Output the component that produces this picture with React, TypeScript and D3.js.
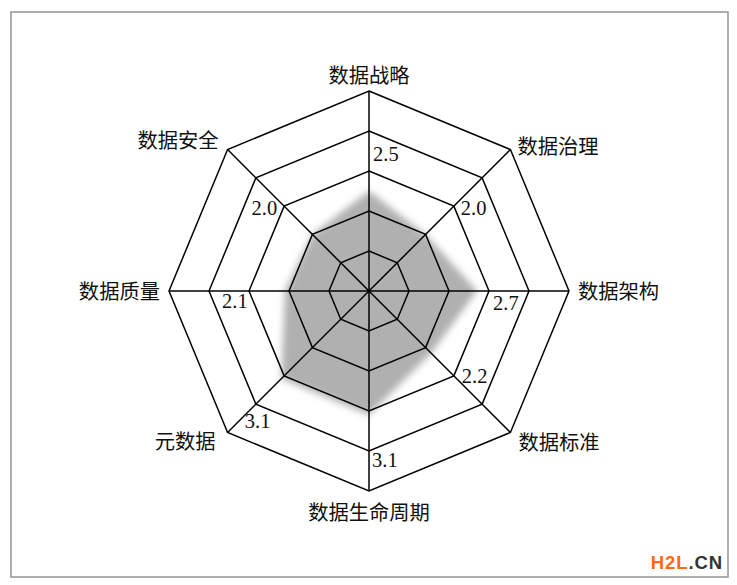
import { useEffect, useRef } from "react";
import * as d3 from "d3";

// axes clockwise from the top
const categories = ["数据战略", "数据治理", "数据架构", "数据标准", "数据生命周期", "元数据", "数据质量", "数据安全"];
const scores = [2.5, 2.0, 2.7, 2.2, 3.1, 3.1, 2.1, 2.0];
const ringLevels = [1, 2, 3, 4, 5];
const maxLevel = 5;

// ring on which each score label sits (layout only)
const labelRing = [4, 3, 3, 3, 4, 4, 4, 3];

export default function App() {
  const ref = useRef<SVGSVGElement>(null);

  useEffect(() => {
    const svg = d3.select(ref.current);
    if (!svg.node()) return;
    svg.selectAll("*").remove();

    const width = 737;
    const height = 585;
    const cx = 369;
    const cy = 291;
    const n = categories.length;

    const r = d3.scaleLinear().domain([0, maxLevel]).range([0, 200]);
    const angle = (i: number) => (i * 2 * Math.PI) / n;
    const pt = (i: number, v: number): [number, number] => [
      cx + r(v) * Math.sin(angle(i)),
      cy - r(v) * Math.cos(angle(i)),
    ];

    svg.attr("viewBox", `0 0 ${width} ${height}`).attr("width", width).attr("height", height);

    svg
      .append("rect")
      .attr("width", width)
      .attr("height", height)
      .attr("fill", "#fff");

    // outer frame
    svg
      .append("rect")
      .attr("x", 11)
      .attr("y", 12)
      .attr("width", 717)
      .attr("height", 565)
      .attr("fill", "none")
      .attr("stroke", "#9a9a9a")
      .attr("stroke-width", 1.6);

    const defs = svg.append("defs");
    defs
      .append("filter")
      .attr("id", "soft")
      .attr("x", "-20%")
      .attr("y", "-20%")
      .attr("width", "140%")
      .attr("height", "140%")
      .append("feGaussianBlur")
      .attr("stdDeviation", 3.5);

    const line = d3.line<[number, number]>().curve(d3.curveLinearClosed);

    // score area
    svg
      .append("path")
      .attr("d", line(scores.map((v, i) => pt(i, v))))
      .attr("fill", "#b0b0b0")
      .attr("filter", "url(#soft)");

    // grid rings
    svg
      .selectAll("path.ring")
      .data(ringLevels)
      .join("path")
      .attr("class", "ring")
      .attr("d", (lv) => line(categories.map((_, i) => pt(i, lv))))
      .attr("fill", "none")
      .attr("stroke", "#000")
      .attr("stroke-width", 1.5)
      .attr("stroke-linejoin", "miter");

    // spokes
    svg
      .selectAll("line.spoke")
      .data(categories)
      .join("line")
      .attr("class", "spoke")
      .attr("x1", cx)
      .attr("y1", cy)
      .attr("x2", (_, i) => pt(i, maxLevel)[0])
      .attr("y2", (_, i) => pt(i, maxLevel)[1])
      .attr("stroke", "#000")
      .attr("stroke-width", 1.5);

    // category labels
    const catPos = [
      { dx: 0, dy: -8, anchor: "middle" },
      { dx: 7, dy: 4, anchor: "start" },
      { dx: 9, dy: 8, anchor: "start" },
      { dx: 8, dy: 18, anchor: "start" },
      { dx: 0, dy: 29, anchor: "middle" },
      { dx: -12, dy: 17, anchor: "end" },
      { dx: -9, dy: 8, anchor: "end" },
      { dx: -9, dy: -2, anchor: "end" },
    ];
    svg
      .selectAll("text.cat")
      .data(categories)
      .join("text")
      .attr("class", "cat")
      .attr("x", (_, i) => pt(i, maxLevel)[0] + catPos[i].dx)
      .attr("y", (_, i) => pt(i, maxLevel)[1] + catPos[i].dy)
      .attr("text-anchor", (_, i) => catPos[i].anchor)
      .attr("font-family", "'Noto Sans CJK SC', sans-serif")
      .attr("font-size", 20.3)
      .attr("fill", "#111")
      .text((d) => d);

    // score labels
    const valPos = [
      { dx: 4, dy: 30, anchor: "start" },
      { dx: 7, dy: 9, anchor: "start" },
      { dx: 4, dy: 19, anchor: "start" },
      { dx: 8, dy: 7, anchor: "start" },
      { dx: 3, dy: 16, anchor: "start" },
      { dx: -11, dy: 24, anchor: "start" },
      { dx: 13, dy: 17, anchor: "start" },
      { dx: -7, dy: 9, anchor: "end" },
    ];
    const fmt = d3.format(".1f");
    svg
      .selectAll("text.val")
      .data(scores)
      .join("text")
      .attr("class", "val")
      .attr("x", (_, i) => pt(i, labelRing[i])[0] + valPos[i].dx)
      .attr("y", (_, i) => pt(i, labelRing[i])[1] + valPos[i].dy)
      .attr("text-anchor", (_, i) => valPos[i].anchor)
      .attr("font-family", "'Liberation Serif', 'Times New Roman', serif")
      .attr("font-size", 20.5)
      .attr("fill", "#111")
      .text((d) => fmt(d));

    // watermark
    const wm = svg
      .append("text")
      .attr("x", 723)
      .attr("y", 569)
      .attr("text-anchor", "end")
      .attr("font-family", "'Liberation Sans', Arial, sans-serif")
      .attr("font-weight", 700)
      .attr("font-size", 18.5)
      .attr("letter-spacing", 0.9);
    wm.append("tspan").attr("fill", "#ff6a13").text("H2L");
    wm.append("tspan").attr("fill", "#333").text(".CN");
  }, []);

  return <svg ref={ref} style={{ position: "absolute", left: 0, top: 0, display: "block" }} />;
}
